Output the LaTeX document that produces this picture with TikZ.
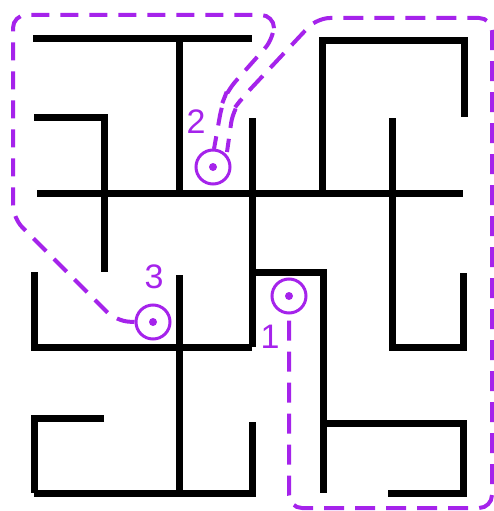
\documentclass[tikz,border=0pt]{standalone}
\usepackage{fontspec}
\setmainfont{Liberation Sans}
\definecolor{vio}{RGB}{165,35,235}
\begin{document}
\begin{tikzpicture}[x=1pt,y=-1pt,
  wall/.style={line width=7pt,line cap=butt,line join=miter,black},
  route/.style={vio,line width=4pt,dash pattern=on 20pt off 11pt,rounded corners=13pt},
  spot/.style={circle,draw=vio,line width=3pt,minimum size=34pt,inner sep=0pt},
  num/.style={text=vio,inner sep=0pt,font=\fontsize{34}{34}\selectfont}]
\useasboundingbox (0,0) rectangle (493,511);
% walls
\draw[wall] (33,39) -- (252,39);
\draw[wall] (179,39) -- (179,193);
\draw[wall] (34,117) -- (104,117) -- (104,272);
\draw[wall] (37,193) -- (463,193);
\draw[wall] (252,118) -- (252,347);
\draw[wall] (34,272) -- (34,347) -- (252,347);
\draw[wall] (252,272) -- (323,272) -- (323,493);
\draw[wall] (323,423) -- (463,423) -- (463,493) -- (388,493);
\draw[wall] (392,118) -- (392,347) -- (463,347) -- (463,273);
\draw[wall] (322,193) -- (322,41) -- (464,41) -- (464,117);
\draw[wall] (179,275) -- (179,493);
\draw[wall] (34,493) -- (252,493) -- (252,422);
\draw[wall] (104,418) -- (34,418) -- (34,493);
% spots
\node[spot] (c1) at (289,296) {};
\node[spot] (c2) at (213,167) {};
\node[spot] (c3) at (153,322) {};
\fill[vio] (c1.center) circle (4);
\fill[vio] (c2.center) circle (4);
\fill[vio] (c3.center) circle (4);
\node[num] (l1) at (270,337) {1};
\node[num] (l2) at (196,122) {2};
\node[num] (l3) at (154,277) {3};
% routes
\coordinate (a1) at (289,508);
\coordinate (a2) at (492,508);
\coordinate (a3) at (492,18);
\coordinate (a4) at (317,18);
\coordinate (a5) at (243,97);
\coordinate (a6) at (233,110);
\coordinate (a7) at (227,152);
\draw[route,dash phase=-6pt] (c1.south) -- (a1) -- (a2) -- (a3) -- (a4) -- (a5) -- (a6) -- (a7);
\coordinate (b1) at (116,321);
\coordinate (b2) at (13,218);
\coordinate (b3) at (13,15);
\coordinate (b4) at (274,15);
\coordinate (b5) at (274,38);
\coordinate (b6) at (227,91);
\coordinate (b7) at (222,104);
\coordinate (b8) at (214,149);
\draw[route,dash pattern=on 18pt off 11pt] (c3.west) -- (b1) -- (b2) -- (b3) -- (b4) -- (b5) -- (b6) -- (b7) -- (b8);
\end{tikzpicture}
\end{document}
